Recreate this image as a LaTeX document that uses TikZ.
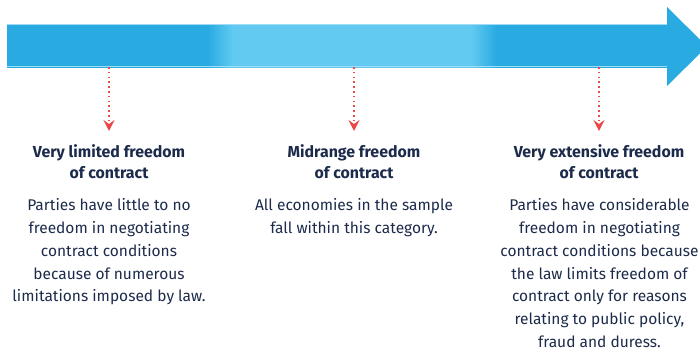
\documentclass[tikz,border=0pt]{standalone}
\usepackage{fontspec}
\setmainfont{Fira Sans}
\usetikzlibrary{arrows.meta}
\definecolor{darkblue}{HTML}{29ABE2}
\definecolor{lightblue}{HTML}{62CAF1}
\definecolor{edgeblue}{HTML}{9FDDF6}
\definecolor{navy}{HTML}{1C2B4B}
\definecolor{dotred}{HTML}{E94848}
\pgfdeclarehorizontalshading{shaftshade}{100bp}{%
  color(0bp)=(darkblue); color(40.2bp)=(darkblue);
  color(42.1bp)=(lightblue); color(60.1bp)=(lightblue);
  color(62bp)=(darkblue); color(100bp)=(darkblue)}
\tikzset{
  headtext/.style={anchor=north, inner sep=0pt, align=center, text=navy,
    font=\fontsize{15.9}{21}\selectfont\bfseries},
  bodytext/.style={anchor=north, inner sep=0pt, align=center, text=navy,
    font=\fontsize{15.5}{22.8}\selectfont},
  pointer/.style={dotred, line width=1.6pt, dash pattern=on 1.6pt off 3.2pt,
    -{Stealth[length=11pt,width=11pt,inset=4pt]}}
}
\begin{document}
\begin{tikzpicture}[x=1pt,y=-1pt]
\useasboundingbox (0,0) rectangle (700,351);
\clip (0,0) rectangle (700,351);
% arrow shaft with gradient
\shade[shading=shaftshade] (7,24) rectangle (668,67);
\draw[edgeblue, line width=0.8pt] (7,24.4) -- (667,24.4);
\draw[edgeblue, line width=0.8pt] (7,66.6) -- (667,66.6);
% arrow head
\fill[darkblue] (667,7) -- (707,46.5) -- (667,86) -- cycle;
% connector anchors
\coordinate (s1) at (109,67);
\coordinate (s2) at (354,67);
\coordinate (s3) at (599,67);
\coordinate (e1) at (109,131);
\coordinate (e2) at (354,131);
\coordinate (e3) at (599,131);
\draw[pointer] (s1) -- (e1);
\draw[pointer] (s2) -- (e2);
\draw[pointer] (s3) -- (e3);
% headings
\node[headtext] (h1) at (109,144.5) {Very limited freedom\\of contract};
\node[headtext] (h2) at (354,144.5) {Midrange freedom\\of contract};
\node[headtext] (h3) at (599,144.5) {Very extensive freedom\\of contract};
% bodies
\node[bodytext] (b1) at (109,198.5) {Parties have little to no\\freedom in negotiating\\contract conditions\\because of numerous\\limitations imposed by law.};
\node[bodytext] (b2) at (354,198.5) {All economies in the sample\\fall within this category.};
\node[bodytext] (b3) at (599.5,198.5) {Parties have considerable\\freedom in negotiating\\contract conditions because\\the law limits freedom of\\contract only for reasons\\relating to public policy,\\fraud and duress.};
\end{tikzpicture}
\end{document}
